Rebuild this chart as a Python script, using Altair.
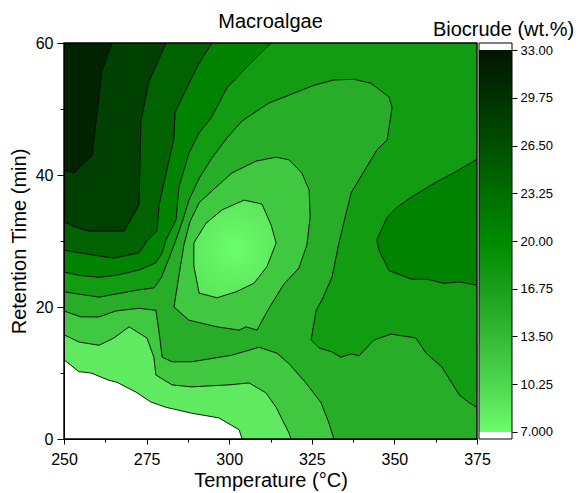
import altair as alt
import pandas as pd

# ---------------- axes ----------------
temp_domain = [250, 375]
time_domain = [0, 60]
temp_ticks = [250, 275, 300, 325, 350, 375]
temp_minor = [262.5, 287.5, 312.5, 337.5, 362.5]
time_ticks = [0, 20, 40, 60]
time_minor = [10, 30, 50]

# colour bar
cbar_ticks = [7, 10.25, 13.5, 16.75, 20, 23.25, 26.5, 29.75, 33]
cbar_domain = [6.52, 33.48]
cbar_stop_values = [7, 10.25, 13.5, 16.75, 20, 23.25, 26.5, 29.75, 33]
cbar_stop_colors = ["#6cfc6c", "#4fd64f", "#35ba35", "#1a9f1a", "#008a00",
                    "#006e00", "#004f00", "#003200", "#001700"]

# contour levels and the band colours between them
levels = [7, 10.25, 13.5, 16.75, 20, 23.25, 26.5, 29.75]
band_colors = ["#5fea5f", "#41c841", "#27ad27", "#119c11", "#008400",
               "#006200", "#004000", "#002400"]
peak_colors = ["#6cfd6c", "#58e458"]   # centre / rim of the lowest-yield spot

# ---------------- contour lines (Temperature °C, Time min) --------
A_T = [250, 253.0, 256.1, 258.5, 261.5, 264.5]
A_t = [40.8, 40.3, 41.8, 43.0, 55.8, 60]

B_T = [250, 253.6, 257.6, 268.2, 272.7, 273.3, 275.7, 280.9]
B_t = [32.9, 32.1, 31.5, 31.5, 35.5, 48.2, 54.2, 60]

C_T = [250, 258.5, 265.1, 272.7, 275.1, 278.1, 278.8, 283.3, 283.6, 290.9, 294.8]
C_t = [28.6, 27.9, 27.4, 28.2, 30.0, 31.5, 35.5, 45.6, 49.5, 57.0, 60]

D_T = [250, 254.5, 260.6, 265.7, 272.7, 277.8, 279.7, 280.9, 283.9, 284.8, 287.8,
       290.9, 294.5, 299.3, 306.0, 312.7]
D_t = [25.3, 24.8, 24.5, 24.8, 25.6, 26.7, 28.2, 30.2, 33.2, 38.2, 43.3,
       46.4, 48.6, 53.2, 56.7, 60]

E_T = [250, 260.6, 272.7, 277.2, 279.4, 281.8, 283.9, 286.0, 287.8, 290.9, 294.8,
       299.3, 303.9, 312.0, 318.1, 325.7, 331.7, 337.8, 342.9, 348.4, 349.3, 347.8,
       344.7, 336.9, 333.2, 331.1, 328.1, 326.3, 324.8, 327.2, 331.1, 333.8, 336.9,
       339.3, 343.8, 349.0, 356.5, 359.6, 364.4, 369.6, 372.6, 375]
E_t = [22.3, 21.5, 22.6, 22.9, 24.4, 27.4, 30.2, 33.2, 36.2, 39.5, 42.6,
       45.6, 48.2, 50.9, 52.1, 53.6, 54.4, 54.5, 53.9, 51.8, 50.2, 45.3,
       43.8, 37.3, 29.7, 24.5, 21.1, 19.5, 15.0, 13.8, 13.2, 12.4, 12.9,
       12.6, 15.0, 15.9, 15.3, 13.0, 10.9, 6.7, 5.5, 4.8]

F_T = [375, 368.6, 362.6, 355.3, 350.5, 347.8, 344.7, 345.3, 348.4, 355.3, 359.9,
       365.0, 369.6, 375]
F_t = [42.4, 40.5, 38.9, 36.7, 35.0, 33.6, 30.2, 28.6, 25.5, 24.2, 24.2,
       23.6, 23.8, 23.3]

G_T = [314.2, 308.1, 300.8, 294.8, 290.9, 288.1, 286.3, 284.8, 283.3, 287.8, 296.3,
       303.0, 305.1, 308.4, 312.0, 316.6, 321.1, 323.5, 324.5, 324.2, 322.0, 318.1, 314.2]
G_t = [42.7, 42.1, 40.3, 37.6, 35.8, 32.9, 29.4, 24.8, 20.0, 18.0, 17.0,
       16.5, 17.0, 16.5, 19.8, 23.5, 25.9, 29.4, 33.6, 37.7, 40.3, 42.3, 42.7]

H_T = [289.3, 293.0, 297.8, 304.5, 309.9, 312.7, 314.2, 311.4, 307.5, 302.1, 296.3,
       290.9, 289.3, 289.3]
H_t = [29.7, 32.7, 34.7, 36.2, 35.6, 32.4, 29.7, 26.1, 23.6, 22.3, 21.4,
       22.1, 26.2, 29.7]

I_T = [250, 255.1, 260.6, 265.7, 272.7, 277.8, 278.8, 279.7, 282.7, 288.7, 300.8,
       309.0, 314.5, 318.1, 323.2, 327.8, 330.2, 331.7]
I_t = [19.4, 18.5, 18.5, 19.4, 19.8, 19.5, 16.1, 12.4, 11.7, 11.7, 12.7,
       13.9, 13.0, 11.4, 8.5, 5.5, 2.4, 0]

J_T = [250, 254.5, 260.6, 265.1, 269.7, 275.1, 277.2, 277.8, 282.7, 288.7, 299.9,
       306.0, 311.1, 314.2, 318.1, 318.7]
J_t = [15.8, 14.7, 14.2, 15.3, 17.0, 15.3, 12.4, 9.7, 8.2, 7.9, 8.2,
       8.5, 7.0, 4.8, 0.9, 0]

K_T = [250, 254.5, 258.2, 263.6, 266.0, 271.8, 276.3, 280.9, 288.7, 296.9, 303.0, 303.9]
K_t = [12.0, 10.2, 10.0, 8.9, 8.6, 7.1, 5.6, 4.8, 3.9, 3.2, 1.4, 0]

FONT = "Liberation Sans"
T0, T1 = temp_domain
t0, t1 = time_domain

xscale = alt.Scale(domain=temp_domain, nice=False, zero=False)
yscale = alt.Scale(domain=time_domain, nice=False, zero=False)


def frame(T, t):
    return pd.DataFrame({"T": T, "t": t, "i": list(range(len(T)))})


def enc(axis_x=None, axis_y=None):
    return dict(
        x=alt.X("T:Q", scale=xscale, axis=axis_x),
        y=alt.Y("t:Q", scale=yscale, axis=axis_y),
        order=alt.Order("i:Q"),
    )


major_x = alt.Axis(values=temp_ticks, title="Temperature (°C)", tickSize=5,
                   labelPadding=7, titlePadding=3, labelFontSize=16, titleFontSize=20,
                   grid=False, zindex=1, format="d", labelFlush=False, labelOverlap=False)
major_y = alt.Axis(values=time_ticks, title="Retention Time (min)", tickSize=7,
                   labelPadding=4, titlePadding=6, labelFontSize=16, titleFontSize=20,
                   grid=False, zindex=1, format="d", labelFlush=False, labelOverlap=False)
minor_x = alt.Axis(values=temp_minor, labels=False, tickSize=3, title=None, domain=False,
                   grid=False, orient="bottom", zindex=1)
minor_y = alt.Axis(values=time_minor, labels=False, tickSize=4, title=None, domain=False,
                   grid=False, orient="left", zindex=1)

peak_fill = alt.RadialGradient(
    gradient="radial",
    stops=[alt.GradientStop(color=peak_colors[0], offset=0),
           alt.GradientStop(color=peak_colors[1], offset=1)],
    x1=0.5, y1=0.5, r1=0, x2=0.5, y2=0.5, r2=0.6,
)

# superlevel regions: contour + plot border
fills = [
    (frame(K_T + [T1, T1, T0], K_t + [t0, t1, t1]), band_colors[0]),
    (frame(J_T + [T1, T1, T0], J_t + [t0, t1, t1]), band_colors[1]),
    (frame(I_T + [T1, T1, T0], I_t + [t0, t1, t1]), band_colors[2]),
    (frame(G_T, G_t), band_colors[1]),
    (frame(H_T, H_t), peak_fill),
    (frame(E_T + [T1, T0], E_t + [t1, t1]), band_colors[3]),
    (frame(D_T + [T0], D_t + [t1]), band_colors[4]),
    (frame(F_T, F_t), band_colors[4]),
    (frame(C_T + [T0], C_t + [t1]), band_colors[5]),
    (frame(B_T + [T0], B_t + [t1]), band_colors[6]),
    (frame(A_T + [T0], A_t + [t1]), band_colors[7]),
]

layers = []
for k, (df, col) in enumerate(fills):
    e = enc(major_x, major_y) if k == 0 else enc()
    layers.append(
        alt.Chart(df).mark_line(fill=col, strokeWidth=0, clip=True).encode(**e)
    )

line_parts = []
for name, T, t in [("A", A_T, A_t), ("B", B_T, B_t), ("C", C_T, C_t), ("D", D_T, D_t),
                   ("E", E_T, E_t), ("F", F_T, F_t), ("G", G_T, G_t), ("H", H_T, H_t),
                   ("I", I_T, I_t), ("J", J_T, J_t), ("K", K_T, K_t)]:
    d = frame(T, t)
    d["line"] = name
    line_parts.append(d)
lines_df = pd.concat(line_parts, ignore_index=True)

contours = alt.Chart(lines_df).mark_line(color="black", strokeWidth=0.9, clip=True).encode(
    detail="line:N", **enc(minor_x, minor_y)
)
layers.append(contours)

border_df = pd.DataFrame({"Ta": [T0], "Tb": [T1], "ta": [t0], "tb": [t1]})
border = alt.Chart(border_df).mark_rect(fillOpacity=0, stroke="black", strokeWidth=1.4).encode(
    x=alt.X("Ta:Q", scale=xscale, axis=None), x2="Tb:Q",
    y=alt.Y("ta:Q", scale=yscale, axis=None), y2="tb:Q",
)
layers.append(border)

main = alt.layer(*layers).resolve_axis(x="independent", y="independent").properties(
    width=413, height=396,
    title=alt.TitleParams("Macroalgae", fontSize=20, font=FONT, fontWeight="normal",
                          anchor="middle", offset=3, color="black"),
)

# ---------------- colour bar ----------------
cbar_df = pd.DataFrame({"xa": [0], "xb": [1], "lo": [cbar_ticks[0]], "hi": [cbar_ticks[-1]]})
lo, hi = cbar_ticks[0], cbar_ticks[-1]
grad = alt.Gradient(
    gradient="linear",
    stops=[alt.GradientStop(color=c, offset=(v - lo) / (hi - lo))
           for v, c in zip(cbar_stop_values, cbar_stop_colors)],
    x1=0, x2=0, y1=1, y2=0,
)
cscale = alt.Scale(domain=cbar_domain, nice=False, zero=False)
cbar_axis = alt.Axis(orient="right", values=cbar_ticks, title=None, tickSize=5,
                     labelPadding=3, labelFontSize=13, domain=False, grid=False,
                     labelFlush=False, labelOverlap=False,
                     labelExpr="datum.value == 7 ? '7.000' : format(datum.value, '.2f')")
cbar_fill = alt.Chart(cbar_df).mark_rect(fill=grad, strokeWidth=0).encode(
    x=alt.X("xa:Q", scale=alt.Scale(domain=[0, 1]), axis=None), x2="xb:Q",
    y=alt.Y("lo:Q", scale=cscale, axis=cbar_axis),
    y2="hi:Q",
)
cbar_box_df = pd.DataFrame({"xa": [0], "xb": [1], "lo": [cbar_domain[0]], "hi": [cbar_domain[1]]})
cbar_box = alt.Chart(cbar_box_df).mark_rect(fillOpacity=0, stroke="black", strokeWidth=1).encode(
    x=alt.X("xa:Q", scale=alt.Scale(domain=[0, 1]), axis=None), x2="xb:Q",
    y=alt.Y("lo:Q", scale=cscale, axis=cbar_axis), y2="hi:Q",
)
cbar = alt.layer(cbar_fill, cbar_box).properties(
    width=33, height=396,
    title=alt.TitleParams("Biocrude (wt.%)", fontSize=20, font=FONT, fontWeight="normal",
                          anchor="middle", offset=3, dx=8, color="black"),
)

chart = alt.hconcat(main, cbar, spacing=2, bounds="flush").configure_view(
    stroke=None
).configure_axis(
    labelFont=FONT, titleFont=FONT, labelColor="black", titleColor="black",
    domainColor="black", tickColor="black", titleFontWeight="normal",
).properties(padding={"left": 9, "top": 12, "right": 2, "bottom": 2})

chart.save("out.html", embed_options={"renderer": "svg", "actions": False})
